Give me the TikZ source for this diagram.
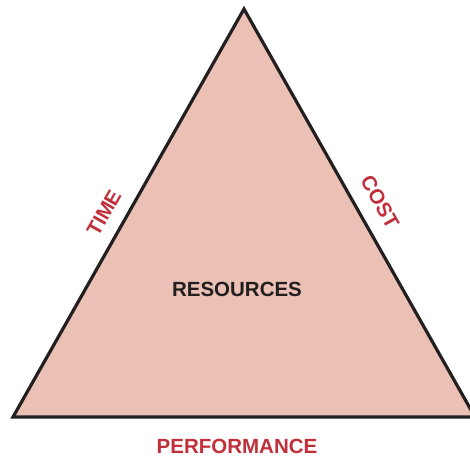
\documentclass[tikz,border=0pt]{standalone}
\usepackage{fontspec}
\setmainfont{Liberation Sans}
\definecolor{trifill}{HTML}{EBC1B5}
\definecolor{labred}{HTML}{C1303A}
\definecolor{edge}{HTML}{231F20}
\begin{document}
\begin{tikzpicture}[x=1pt,y=-1pt,
  lab/.style={text=labred,font=\fontsize{20.5}{22}\selectfont\bfseries,inner sep=0pt},
  mid/.style={text=edge,font=\fontsize{20.5}{22}\selectfont\bfseries,inner sep=0pt}]
\useasboundingbox (0,0) rectangle (470,461);
\begin{scope}
\clip (0,0) rectangle (470,461);
\coordinate (top) at (244,9);
\coordinate (bl) at (13,417);
\coordinate (br) at (475,417);
\draw[fill=trifill,draw=edge,line width=3.2pt,line join=miter] (top) -- (bl) -- (br) -- cycle;
\end{scope}
\node[lab,rotate=60.5] (time) at (104,213) {TIME};
\node[lab,rotate=-60.5] (cost) at (380,202) {COST};
\node[mid] (res) at (237,289) {RESOURCES};
\node[lab] (perf) at (237,446) {PERFORMANCE};
\end{tikzpicture}
\end{document}
